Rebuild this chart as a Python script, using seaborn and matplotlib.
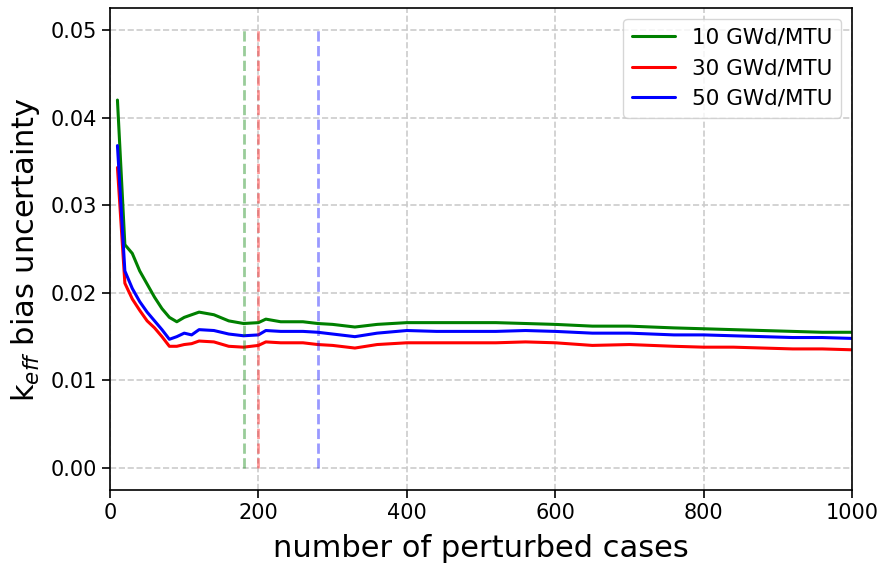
import numpy as np
import pandas as pd
import matplotlib
matplotlib.use("Agg")
import matplotlib.pyplot as plt
import seaborn as sns

cases = [10, 20, 30, 40, 50, 60, 70, 80, 90, 100, 110, 120, 140, 160, 180, 200, 210, 230,
         260, 280, 300, 330, 360, 400, 440, 480, 520, 560, 600, 650, 700, 760, 800, 840,
         880, 920, 960, 1000]
g10 = [0.0420, 0.0255, 0.0245, 0.0225, 0.0210, 0.0195, 0.0182, 0.0172, 0.0167, 0.0172,
       0.0175, 0.0178, 0.0175, 0.0168, 0.0165, 0.0166, 0.0170, 0.0167, 0.0167, 0.0165,
       0.0164, 0.0161, 0.0164, 0.0166, 0.0166, 0.0166, 0.0166, 0.0165, 0.0164, 0.0162,
       0.0162, 0.0160, 0.0159, 0.0158, 0.0157, 0.0156, 0.0155, 0.0155]
g30 = [0.0343, 0.0211, 0.0193, 0.0180, 0.0168, 0.0160, 0.0150, 0.0139, 0.0139, 0.0141,
       0.0142, 0.0145, 0.0144, 0.0139, 0.0138, 0.0140, 0.0144, 0.0143, 0.0143, 0.0141,
       0.0140, 0.0137, 0.0141, 0.0143, 0.0143, 0.0143, 0.0143, 0.0144, 0.0143, 0.0140,
       0.0141, 0.0139, 0.0138, 0.0138, 0.0137, 0.0136, 0.0136, 0.0135]
g50 = [0.0368, 0.0225, 0.0205, 0.0190, 0.0178, 0.0168, 0.0158, 0.0147, 0.0150, 0.0154,
       0.0152, 0.0158, 0.0157, 0.0153, 0.0151, 0.0152, 0.0157, 0.0156, 0.0156, 0.0155,
       0.0153, 0.0150, 0.0154, 0.0157, 0.0156, 0.0156, 0.0156, 0.0157, 0.0156, 0.0154,
       0.0154, 0.0152, 0.0152, 0.0151, 0.0150, 0.0149, 0.0149, 0.0148]
series_names = ["10 GWd/MTU", "30 GWd/MTU", "50 GWd/MTU"]
series_colors = ["green", "red", "blue"]
cutoff_x = [180, 200, 280]

rows = []
for name, vals in zip(series_names, [g10, g30, g50]):
    for c, v in zip(cases, vals):
        rows.append({"cases": c, "unc": v, "burnup": name})
df = pd.DataFrame(rows)

sns.set_style("ticks")
plt.rcParams["font.family"] = ["DejaVu Sans"]
plt.rcParams["text.color"] = "black"
plt.rcParams["axes.labelcolor"] = "black"
plt.rcParams["xtick.color"] = "black"
plt.rcParams["ytick.color"] = "black"

fig = plt.figure(figsize=(8.83, 5.67), dpi=100)
ax = fig.add_axes([0.1246, 0.1358, 0.8403, 0.850])

sns.lineplot(data=df, x="cases", y="unc", hue="burnup", palette=series_colors,
             hue_order=series_names, linewidth=2.2, ax=ax)
for xc, col in zip(cutoff_x, series_colors):
    ax.vlines(xc, 0, 0.05, colors=col, linestyles="--", linewidth=2, alpha=0.4)

ax.set_xlim(0, 1000)
ax.set_xticks([0, 200, 400, 600, 800, 1000])
ax.set_yticks([0.00, 0.01, 0.02, 0.03, 0.04, 0.05])
ax.set_yticklabels(["0.00", "0.01", "0.02", "0.03", "0.04", "0.05"])
ax.grid(True, linestyle="--", color="#cccccc", linewidth=1.2)
ax.tick_params(labelsize=15, length=6, width=1.2, colors="black")
for s in ax.spines.values():
    s.set_color("black")
    s.set_linewidth(1.2)
ax.set_xlabel("number of perturbed cases", fontsize=22, labelpad=8)
ax.set_ylabel(r"k$_{eff}$ bias uncertainty", fontsize=22, labelpad=6)
leg = ax.legend(loc="upper right", fontsize=15.5, title=None, frameon=True)
for line in leg.get_lines():
    line.set_linewidth(2.2)

fig.savefig("out.png", dpi=100)
